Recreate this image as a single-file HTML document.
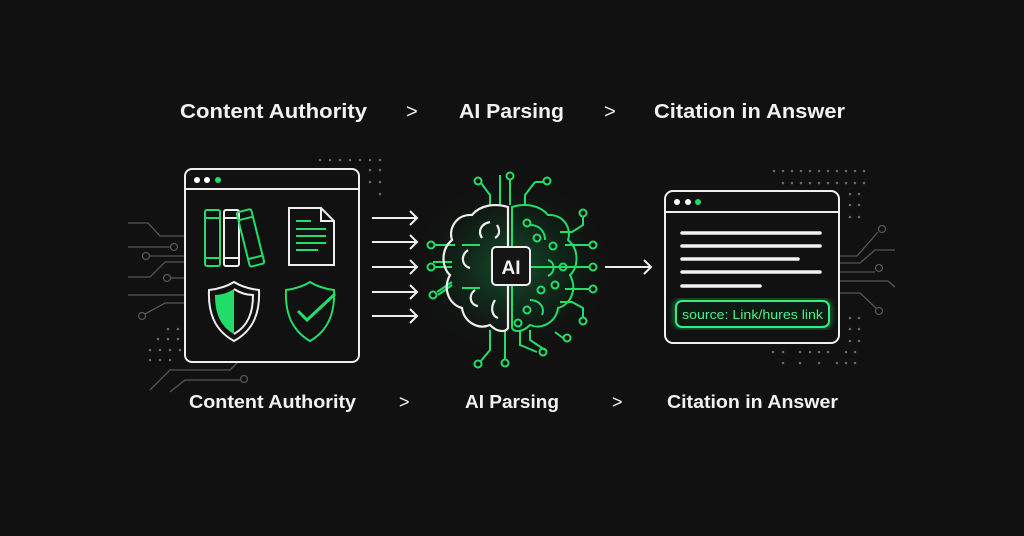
<!DOCTYPE html>
<html><head><meta charset="utf-8"><style>
html,body{margin:0;padding:0;background:#111111;}
svg{display:block}
text{font-family:"Liberation Sans",sans-serif;fill:#f2f2f2;font-weight:bold}
</style></head><body>
<svg width="1024" height="536" viewBox="0 0 1024 536" xmlns="http://www.w3.org/2000/svg">
<defs>
<radialGradient id="glow" cx="0.5" cy="0.5" r="0.5">
<stop offset="0" stop-color="#1c8a45" stop-opacity="0.55"/>
<stop offset="0.6" stop-color="#0d4a24" stop-opacity="0.25"/>
<stop offset="1" stop-color="#111" stop-opacity="0"/>
</radialGradient>
<filter id="bl"><feGaussianBlur stdDeviation="3"/></filter>
</defs>
<rect width="1024" height="536" fill="#111"/>
<!-- top labels -->
<text x="180" y="118" font-size="20" textLength="187" lengthAdjust="spacingAndGlyphs">Content Authority</text>
<text x="406" y="118" font-size="20" font-weight="normal" style="font-weight:normal">&gt;</text>
<text x="459" y="118" font-size="20" textLength="105" lengthAdjust="spacingAndGlyphs">AI Parsing</text>
<text x="604" y="118" font-size="20" style="font-weight:normal">&gt;</text>
<text x="654" y="118" font-size="20" textLength="191" lengthAdjust="spacingAndGlyphs">Citation in Answer</text>
<!-- bottom labels -->
<text x="189" y="408" font-size="18" textLength="167" lengthAdjust="spacingAndGlyphs">Content Authority</text>
<text x="399" y="408" font-size="18" style="font-weight:normal">&gt;</text>
<text x="465" y="408" font-size="18" textLength="94" lengthAdjust="spacingAndGlyphs">AI Parsing</text>
<text x="612" y="408" font-size="18" style="font-weight:normal">&gt;</text>
<text x="667" y="408" font-size="18" textLength="171" lengthAdjust="spacingAndGlyphs">Citation in Answer</text>

<!-- left circuit lines -->
<g stroke="#555" stroke-width="1.3" fill="none">
<path d="M128 223 H148 L160 236 H185"/>
<path d="M128 247 H171"/><circle cx="174" cy="247" r="3.5"/>
<path d="M149 256 H185"/><circle cx="146" cy="256" r="3.5"/>
<path d="M128 277 H150 L165 262 H185"/>
<path d="M170 278 H185"/><circle cx="167" cy="278" r="3.5"/>
<path d="M128 295 H185"/>
<path d="M145 314 L165 303 H185"/><circle cx="142" cy="316" r="3.5"/>
<path d="M150 390 L170 370 H230 L240 360"/>
<path d="M170 392 L185 380 H240"/><circle cx="244" cy="379" r="3.5"/>
</g>
<g fill="#666">
<circle cx="168" cy="329" r="1.3"/><circle cx="178" cy="329" r="1.3"/>
<circle cx="158" cy="339" r="1.3"/><circle cx="168" cy="339" r="1.3"/><circle cx="178" cy="339" r="1.3"/>
<circle cx="150" cy="350" r="1.3"/><circle cx="160" cy="350" r="1.3"/><circle cx="170" cy="350" r="1.3"/><circle cx="180" cy="350" r="1.3"/>
<circle cx="150" cy="360" r="1.3"/><circle cx="160" cy="360" r="1.3"/><circle cx="170" cy="360" r="1.3"/>
<circle cx="320" cy="160" r="1.3"/><circle cx="330" cy="160" r="1.3"/><circle cx="340" cy="160" r="1.3"/><circle cx="350" cy="160" r="1.3"/><circle cx="360" cy="160" r="1.3"/><circle cx="370" cy="160" r="1.3"/><circle cx="380" cy="160" r="1.3"/>
<circle cx="370" cy="170" r="1.3"/><circle cx="380" cy="170" r="1.3"/><circle cx="370" cy="182" r="1.3"/><circle cx="380" cy="182" r="1.3"/><circle cx="380" cy="194" r="1.3"/>
</g>
<!-- left window -->
<rect x="185" y="169" width="174" height="193" rx="7" fill="#111" stroke="#eee" stroke-width="2"/>
<line x1="185" y1="189" x2="359" y2="189" stroke="#eee" stroke-width="2"/>
<circle cx="197" cy="180" r="3" fill="#fff"/><circle cx="207" cy="180" r="3" fill="#fff"/><circle cx="218" cy="180" r="3" fill="#22dd6a"/>
<!-- books -->
<g fill="none" stroke-width="2">
<rect x="205" y="210" width="15" height="56" rx="2" stroke="#22dd6a"/>
<line x1="205" y1="218" x2="220" y2="218" stroke="#22dd6a"/><line x1="205" y1="258" x2="220" y2="258" stroke="#22dd6a"/>
<rect x="224" y="210" width="15" height="56" rx="2" stroke="#eee"/>
<line x1="224" y1="218" x2="239" y2="218" stroke="#eee"/><line x1="224" y1="258" x2="239" y2="258" stroke="#eee"/>
<g transform="rotate(-14 250 238)"><rect x="243" y="210" width="15" height="56" rx="2" stroke="#22dd6a"/>
<line x1="243" y1="218" x2="258" y2="218" stroke="#22dd6a"/><line x1="243" y1="258" x2="258" y2="258" stroke="#22dd6a"/></g>
<!-- doc -->
<path d="M289 208 H321 L334 221 V265 H289 Z" stroke="#eee"/>
<path d="M321 208 V221 H334" stroke="#eee"/>
<g stroke="#22dd6a"><line x1="296" y1="221" x2="311" y2="221"/><line x1="296" y1="229" x2="326" y2="229"/><line x1="296" y1="236" x2="326" y2="236"/><line x1="296" y1="243" x2="326" y2="243"/><line x1="296" y1="250" x2="318" y2="250"/></g>
<!-- shield 1 -->
<path d="M234 282 C226 287 218 289 209 290 C208 312 214 330 234 341 C254 330 260 312 259 290 C250 289 242 287 234 282 Z" stroke="#eee"/>
<path d="M234 289 C228 293 221 295 215 295 C215 313 220 326 234 334 Z" fill="#22dd6a" stroke="none"/>
<path d="M234 289 C240 293 247 295 253 295 C253 313 248 326 234 334" stroke="#eee"/>
<!-- shield 2 -->
<path d="M310 282 C302 287 294 289 286 290 C285 312 291 330 310 341 C329 330 335 312 334 290 C326 289 318 287 310 282 Z" stroke="#22dd6a"/>
<path d="M298 311 L307 320 L335 294" stroke="#22dd6a" stroke-width="3"/>
</g>
<!-- arrows -->
<g stroke="#eee" stroke-width="2" fill="none">
<path d="M372 218 H417 M410 211 L417 218 L410 225"/>
<path d="M372 242 H417 M410 235 L417 242 L410 249"/>
<path d="M372 267 H417 M410 260 L417 267 L410 274"/>
<path d="M372 292 H417 M410 285 L417 292 L410 299"/>
<path d="M372 316 H417 M410 309 L417 316 L410 323"/>
<path d="M605 267 H651 M644 260 L651 267 L644 274"/>
</g>
<!-- brain -->
<ellipse cx="512" cy="267" rx="100" ry="90" fill="url(#glow)"/>
<g fill="none" stroke="#22dd6a" stroke-width="2">
<!-- circuits -->
<path d="M480 245 L462 245 M452 262 L433 262 M452 285 L438 295 M480 288 L462 288"/>
<circle cx="431" cy="245" r="3.5"/><circle cx="431" cy="267" r="3.5"/><circle cx="433" cy="295" r="3.5"/>
<path d="M435 245 H455 M435 267 H452 M437 292 L452 282"/>
<path d="M500 205 V175" /><circle cx="510" cy="176" r="3.5"/><path d="M510 180 V205"/>
<path d="M490 205 V195 L481 183"/><circle cx="478" cy="181" r="3.5"/>
<path d="M525 205 V195 L535 182"/><circle cx="547" cy="181" r="3.5"/><path d="M535 182 H543"/>
<circle cx="583" cy="213" r="3.5"/><path d="M583 217 V225 L572 232 H560"/>
<circle cx="593" cy="245" r="3.5"/><path d="M589 245 H565"/>
<circle cx="593" cy="267" r="3.5"/><path d="M589 267 H530"/>
<circle cx="593" cy="289" r="3.5"/><path d="M589 289 H565"/>
<circle cx="583" cy="321" r="3.5"/><path d="M583 317 V308 L572 302 H560"/>
<circle cx="527" cy="223" r="3.5"/><circle cx="537" cy="238" r="3.5"/><circle cx="553" cy="246" r="3.5"/>
<circle cx="563" cy="267" r="3.5"/><circle cx="555" cy="285" r="3.5"/><circle cx="541" cy="290" r="3.5"/><circle cx="527" cy="310" r="3.5"/>
<circle cx="518" cy="323" r="3.5"/>
<path d="M490 330 V350 L480 362"/><circle cx="478" cy="364" r="3.5"/>
<path d="M505 330 V360"/><circle cx="505" cy="363" r="3.5"/>
<path d="M520 330 V345 L537 352"/><circle cx="543" cy="352" r="3.5"/>
<path d="M530 330 V340 L545 350"/><circle cx="567" cy="338" r="3.5"/><path d="M563 338 L555 332"/>
<!-- right half brain -->
<path d="M512 207 C525 203 540 205 548 215 C563 214 572 228 568 240 C580 250 578 268 570 275 C578 290 570 305 558 308 C556 322 542 330 530 325 C522 333 514 332 512 328 Z"/>
<path d="M530 225 C540 225 545 232 545 240 M548 260 C555 262 556 272 548 276 M530 300 C540 300 545 308 542 315"/>
</g>
<g fill="none" stroke="#eee" stroke-width="2.2">
<path d="M508 207 C495 203 480 205 472 215 C457 214 448 228 452 240 C440 250 442 268 450 275 C442 290 450 305 462 308 C464 322 478 330 490 325 C498 333 506 332 508 328 Z"/>
<path d="M490 222 C480 224 478 232 482 238 M468 250 C460 256 462 266 470 268 M475 290 C468 295 470 305 478 306 M495 300 C490 308 492 316 498 318 M497 225 C500 230 500 235 495 238"/>
</g>
<rect x="492" y="247" width="38" height="38" rx="4" fill="#151515" stroke="#eee" stroke-width="2"/>
<text x="511" y="274" font-size="19" text-anchor="middle">AI</text>

<!-- right circuits -->
<g stroke="#555" stroke-width="1.3" fill="none">
<path d="M840 256 H857 L878 232"/><circle cx="882" cy="229" r="3.5"/>
<path d="M840 263 H860 L875 250 H895"/>
<path d="M840 272 H875"/><circle cx="879" cy="268" r="3.5"/>
<path d="M840 281 H888 L895 287"/>
<path d="M840 293 H860 L876 308"/><circle cx="879" cy="311" r="3.5"/>
</g>
<g fill="#666">
<circle cx="774" cy="171" r="1.3"/><circle cx="783" cy="171" r="1.3"/><circle cx="792" cy="171" r="1.3"/><circle cx="801" cy="171" r="1.3"/><circle cx="810" cy="171" r="1.3"/><circle cx="819" cy="171" r="1.3"/><circle cx="828" cy="171" r="1.3"/><circle cx="837" cy="171" r="1.3"/><circle cx="846" cy="171" r="1.3"/><circle cx="855" cy="171" r="1.3"/><circle cx="864" cy="171" r="1.3"/>
<circle cx="783" cy="183" r="1.3"/><circle cx="792" cy="183" r="1.3"/><circle cx="801" cy="183" r="1.3"/><circle cx="810" cy="183" r="1.3"/><circle cx="819" cy="183" r="1.3"/><circle cx="828" cy="183" r="1.3"/><circle cx="837" cy="183" r="1.3"/><circle cx="846" cy="183" r="1.3"/><circle cx="855" cy="183" r="1.3"/><circle cx="864" cy="183" r="1.3"/>
<circle cx="850" cy="194" r="1.3"/><circle cx="859" cy="194" r="1.3"/><circle cx="850" cy="205" r="1.3"/><circle cx="859" cy="205" r="1.3"/><circle cx="850" cy="217" r="1.3"/><circle cx="859" cy="217" r="1.3"/>
<circle cx="850" cy="318" r="1.3"/><circle cx="859" cy="318" r="1.3"/><circle cx="850" cy="329" r="1.3"/><circle cx="859" cy="329" r="1.3"/><circle cx="850" cy="341" r="1.3"/><circle cx="859" cy="341" r="1.3"/>
<circle cx="773" cy="352" r="1.3"/><circle cx="783" cy="352" r="1.3"/><circle cx="800" cy="352" r="1.3"/><circle cx="810" cy="352" r="1.3"/><circle cx="819" cy="352" r="1.3"/><circle cx="828" cy="352" r="1.3"/><circle cx="846" cy="352" r="1.3"/><circle cx="855" cy="352" r="1.3"/>
<circle cx="783" cy="363" r="1.3"/><circle cx="800" cy="363" r="1.3"/><circle cx="819" cy="363" r="1.3"/><circle cx="837" cy="363" r="1.3"/><circle cx="846" cy="363" r="1.3"/><circle cx="855" cy="363" r="1.3"/>
</g>
<!-- right window -->
<rect x="665" y="191" width="174" height="152" rx="8" fill="#111" stroke="#eee" stroke-width="2"/>
<line x1="665" y1="212" x2="839" y2="212" stroke="#eee" stroke-width="2"/>
<circle cx="677" cy="202" r="3" fill="#fff"/><circle cx="688" cy="202" r="3" fill="#fff"/><circle cx="698" cy="202" r="3" fill="#22dd6a"/>
<g stroke="#f2f2f2" stroke-width="3.5" stroke-linecap="round">
<line x1="682" y1="233" x2="820" y2="233"/>
<line x1="682" y1="246" x2="820" y2="246"/>
<line x1="682" y1="259" x2="798" y2="259"/>
<line x1="682" y1="272" x2="820" y2="272"/>
<line x1="682" y1="286" x2="760" y2="286"/>
</g>
<rect x="676" y="301" width="153" height="26" rx="6" fill="none" stroke="#22dd6a" stroke-width="5" opacity="0.5" filter="url(#bl)"/>
<rect x="676" y="301" width="153" height="26" rx="6" fill="#0f1a13" stroke="#2ef07a" stroke-width="2"/>
<text x="682" y="319" font-size="12.5" style="fill:#4cf08a;font-weight:normal" textLength="141" lengthAdjust="spacingAndGlyphs">source: Link/hures link</text>
</svg>
</body></html>
